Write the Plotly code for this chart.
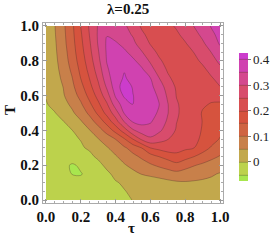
import plotly.graph_objects as go

# grid coordinates (tau along x, T along y)
tau = [0.0, 0.05, 0.1, 0.15, 0.2, 0.25, 0.3, 0.35, 0.4, 0.45, 0.5,
       0.55, 0.6, 0.65, 0.7, 0.75, 0.8, 0.85, 0.9, 0.95, 1.0]
T = [0.0, 0.05, 0.1, 0.15, 0.2, 0.25, 0.3, 0.35, 0.4, 0.45, 0.5,
     0.55, 0.6, 0.65, 0.7, 0.75, 0.8, 0.85, 0.9, 0.95, 1.0]

# values, one row per T value (bottom to top)
row_000 = [-0.035, -0.036, -0.037, -0.037, -0.035, -0.031, -0.026, -0.020, -0.0135, -0.007, 0.001, 0.007, 0.012, 0.017, 0.021, 0.024, 0.026, 0.028, 0.029, 0.030, 0.030]
row_005 = [-0.033, -0.034, -0.036, -0.037, -0.036, -0.032, -0.026, -0.019, -0.0115, -0.0015, 0.006, 0.012, 0.018, 0.023, 0.028, 0.032, 0.034, 0.035, 0.035, 0.035, 0.035]
row_010 = [-0.030, -0.032, -0.035, -0.038, -0.040, -0.031, -0.021, -0.012, -0.0026, 0.0046, 0.011, 0.0175, 0.024, 0.030, 0.037, 0.043, 0.046, 0.0445, 0.043, 0.0415, 0.040]
row_015 = [-0.028, -0.032, -0.036, -0.051, -0.052, -0.040, -0.0235, -0.0069, 0.0086, 0.023, 0.038, 0.052, 0.060, 0.068, 0.077, 0.085, 0.0775, 0.070, 0.062, 0.0545, 0.047]
row_020 = [-0.025, -0.030, -0.038, -0.055, -0.044, -0.0268, -0.0096, 0.008, 0.027, 0.046, 0.0625, 0.078, 0.094, 0.108, 0.1215, 0.135, 0.119, 0.103, 0.091, 0.081, 0.070]
row_025 = [-0.022, -0.024, -0.026, -0.027, -0.0176, -0.007, 0.006, 0.026, 0.046, 0.067, 0.0875, 0.108, 0.129, 0.151, 0.1675, 0.185, 0.1675, 0.151, 0.131, 0.1115, 0.097]
row_030 = [-0.020, -0.016, -0.012, -0.0075, -0.0034, 0.004, 0.025, 0.046, 0.069, 0.093, 0.121, 0.151, 0.201, 0.215, 0.230, 0.220, 0.210, 0.201, 0.172, 0.145, 0.120]
row_035 = [-0.018, -0.0135, -0.009, -0.0044, 0.001, 0.024, 0.048, 0.074, 0.101, 0.145, 0.201, 0.259, 0.290, 0.270, 0.251, 0.2365, 0.223, 0.2095, 0.193, 0.169, 0.147]
row_040 = [-0.015, -0.0102, -0.0053, -0.001, 0.0225, 0.0475, 0.080, 0.118, 0.167, 0.225, 0.293, 0.324, 0.331, 0.309, 0.277, 0.245, 0.229, 0.214, 0.197, 0.178, 0.159]
row_045 = [-0.012, -0.0066, -0.0013, 0.019, 0.045, 0.079, 0.118, 0.169, 0.228, 0.301, 0.354, 0.365, 0.354, 0.329, 0.292, 0.251, 0.233, 0.216, 0.199, 0.185, 0.171]
row_050 = [-0.008, -0.002, 0.016, 0.042, 0.073, 0.110, 0.161, 0.215, 0.275, 0.354, 0.376, 0.377, 0.363, 0.345, 0.302, 0.256, 0.235, 0.2175, 0.197, 0.190, 0.183]
row_055 = [-0.003, 0.011, 0.034, 0.060, 0.093, 0.140, 0.190, 0.244, 0.325, 0.373, 0.401, 0.381, 0.366, 0.351, 0.302, 0.2545, 0.236, 0.220, 0.2045, 0.1975, 0.194]
row_060 = [0.002, 0.024, 0.046, 0.077, 0.115, 0.165, 0.217, 0.279, 0.356, 0.408, 0.401, 0.383, 0.366, 0.344, 0.291, 0.248, 0.233, 0.218, 0.203, 0.210, 0.217]
row_065 = [0.005, 0.028, 0.051, 0.088, 0.134, 0.185, 0.239, 0.307, 0.375, 0.426, 0.396, 0.379, 0.361, 0.328, 0.277, 0.244, 0.230, 0.216, 0.215, 0.2325, 0.249]
row_070 = [0.008, 0.032, 0.059, 0.098, 0.151, 0.201, 0.257, 0.329, 0.379, 0.405, 0.3845, 0.367, 0.351, 0.301, 0.258, 0.235, 0.216, 0.212, 0.229, 0.246, 0.265]
row_075 = [0.010, 0.035, 0.067, 0.110, 0.1625, 0.215, 0.273, 0.343, 0.379, 0.397, 0.379, 0.357, 0.318, 0.277, 0.244, 0.226, 0.207, 0.224, 0.241, 0.263, 0.290]
row_080 = [0.012, 0.038, 0.074, 0.121, 0.173, 0.227, 0.287, 0.353, 0.383, 0.3815, 0.359, 0.329, 0.293, 0.257, 0.234, 0.214, 0.223, 0.239, 0.258, 0.284, 0.310]
row_085 = [0.014, 0.041, 0.079, 0.128, 0.181, 0.237, 0.296, 0.356, 0.380, 0.359, 0.332, 0.303, 0.268, 0.240, 0.220, 0.221, 0.235, 0.251, 0.2755, 0.301, 0.335]
row_090 = [0.016, 0.043, 0.085, 0.133, 0.188, 0.244, 0.304, 0.357, 0.356, 0.335, 0.310, 0.279, 0.2465, 0.229, 0.218, 0.2325, 0.247, 0.269, 0.293, 0.323, 0.355]
row_095 = [0.018, 0.046, 0.088, 0.137, 0.194, 0.251, 0.306, 0.348, 0.331, 0.315, 0.296, 0.258, 0.237, 0.221, 0.229, 0.243, 0.262, 0.285, 0.310, 0.341, 0.362]
row_100 = [0.020, 0.048, 0.091, 0.140, 0.201, 0.256, 0.304, 0.327, 0.331, 0.309, 0.275, 0.244, 0.230, 0.227, 0.240, 0.255, 0.277, 0.301, 0.328, 0.353, 0.370]

Z = [row_000, row_005, row_010, row_015, row_020, row_025, row_030,
     row_035, row_040, row_045, row_050, row_055, row_060, row_065,
     row_070, row_075, row_080, row_085, row_090, row_095, row_100]

# contour levels and band colours (lowest band first)
level_start = -0.05
level_end = 0.4
level_step = 0.05
band_colors = ["#a8e64e", "#bcd24c", "#c2a84c", "#c8804a", "#cf6442",
               "#d6533e", "#d84e50", "#d84c6c", "#d4488e", "#d042b0", "#cc3ccc"]
cbar_ticks = [0, 0.1, 0.2, 0.3, 0.4]
cbar_text = ["0", "0.1", "0.2", "0.3", "0.4"]

n = len(band_colors) - 1
colorscale = [[i / n, c] for i, c in enumerate(band_colors)]

SERIF = "Liberation Serif"

# plot box in pixels
L, R, TOP, BOT = 43, 223, 23, 203
W, H = 273, 244
PW, PH = R - L, BOT - TOP


def px(xp):
    return (xp - L) / PW


def py(yp):
    return (BOT - yp) / PH


fig = go.Figure(go.Contour(
    x=tau, y=T, z=Z,
    contours=dict(start=level_start, end=level_end, size=level_step, coloring="fill"),
    colorscale=colorscale,
    line=dict(color="rgba(70,40,40,0.55)", width=0.6, smoothing=1.0),
    hoverinfo="skip",
    colorbar=dict(
        thickness=9, thicknessmode="pixels",
        len=128, lenmode="pixels",
        x=px(239), xanchor="left",
        y=py(117), yanchor="middle",
        xpad=0, ypad=0, outlinewidth=0,
        tickvals=cbar_ticks, ticktext=cbar_text,
        ticks="outside", ticklen=3, tickcolor="#777",
        tickfont=dict(family=SERIF, size=13, color="#222"),
    ),
))

axis_common = dict(
    range=[-0.017, 1.017], tick0=0, dtick=0.2, tickformat=".1f",
    ticks="inside", ticklen=4, tickcolor="#999", tickwidth=1,
    showline=True, linecolor="#aaa", linewidth=1, mirror="ticks",
    showgrid=False, zeroline=False,
    minor=dict(ticks="inside", ticklen=2, tick0=0, dtick=0.05, tickcolor="#aaa", showgrid=False),
    tickfont=dict(family=SERIF, size=15, color="#111", weight="bold"),
)

fig.update_layout(
    width=W, height=H,
    margin=dict(l=L, r=W - R, t=TOP, b=H - BOT, pad=0, autoexpand=False),
    paper_bgcolor="white", plot_bgcolor="white",
    xaxis=axis_common, yaxis=axis_common,
    showlegend=False,
    annotations=[
        dict(text="λ=0.25", x=px(128.3), y=py(9), xref="paper", yref="paper",
             showarrow=False, xanchor="center", yanchor="middle",
             font=dict(family=SERIF, size=15, color="#111", weight="bold")),
        dict(text="τ", x=px(131), y=py(228), xref="paper", yref="paper",
             showarrow=False, xanchor="center", yanchor="middle",
             font=dict(family=SERIF, size=15, color="#111", weight="bold")),
        dict(text="T", x=px(10), y=py(110), xref="paper", yref="paper",
             showarrow=False, xanchor="center", yanchor="middle", textangle=-90,
             font=dict(family=SERIF, size=15, color="#111", weight="bold")),
    ],
)

fig.write_html(
    "out.html",
    config={"displayModeBar": False},
    post_script="document.body.style.margin='0';document.body.style.padding='0';"
                "document.body.style.overflow='hidden';",
)
